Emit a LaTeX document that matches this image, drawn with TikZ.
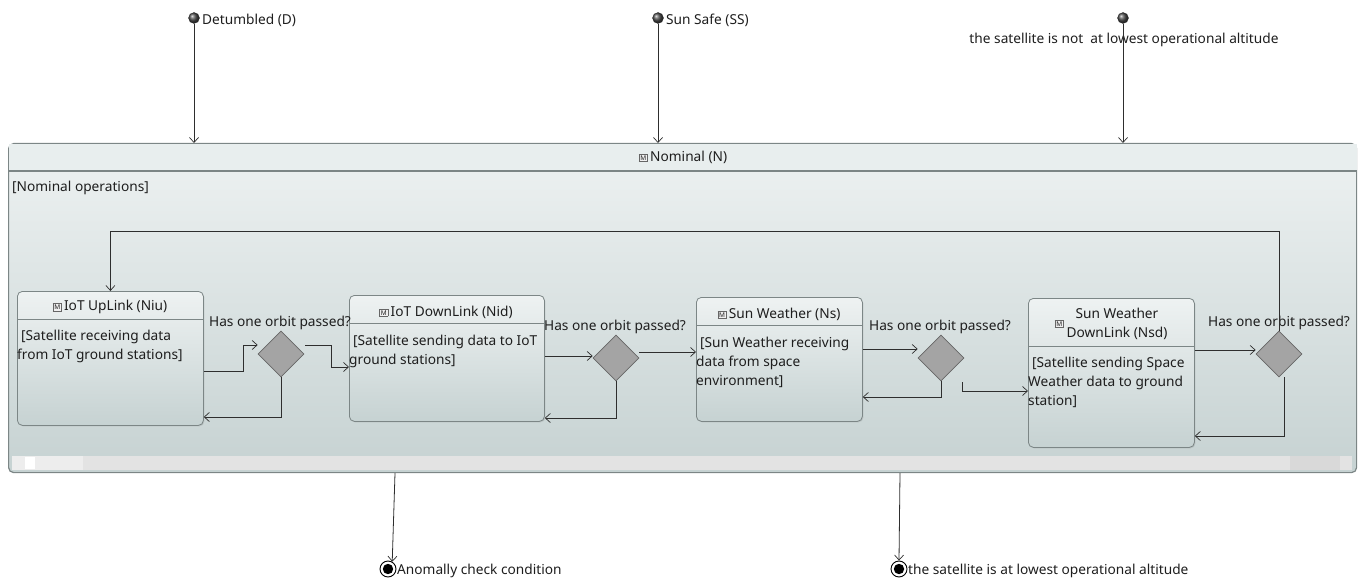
\documentclass[tikz,border=0pt]{standalone}
\usepackage{fontspec}
\setmainfont{Noto Sans}
\usetikzlibrary{shapes.geometric,arrows.meta,calc,shadows}
\definecolor{txt}{HTML}{1E1E1E}
\definecolor{edgec}{HTML}{7C8686}
\definecolor{boxtop}{HTML}{EEF2F2}
\definecolor{boxbot}{HTML}{C6D2D2}
\definecolor{diamc}{HTML}{A4A4A4}
\definecolor{linec}{HTML}{2E2E2E}
\definecolor{hdrc}{HTML}{E8EEEE}
\definecolor{scrA}{HTML}{E3E3E3}
\definecolor{scrB}{HTML}{EDEDED}
\definecolor{scrC}{HTML}{D9D9D9}
\newcommand{\mIcon}{{\setlength{\fboxsep}{1pt}\setlength{\fboxrule}{0.6pt}\raisebox{1pt}{\fcolorbox{gray!80!black}{gray!12}{\fontsize{6.5}{6.5}\selectfont\bfseries M}}}}
\tikzset{
  every node/.style={text=txt},
  conn/.style={draw=linec, line width=0.8pt, -{Straight Barb[length=5pt,width=9pt,line width=0.7pt]}},
  statebox/.style={draw=edgec, line width=0.8pt, rounded corners=5pt, top color=boxtop, bottom color=boxbot, inner sep=0pt, drop shadow={shadow xshift=1pt, shadow yshift=-1pt, opacity=0.25}},
  decision/.style={diamond, draw=gray!80!black, fill=diamc, line width=0.6pt, minimum width=46pt, minimum height=46pt, inner sep=0pt},
  initball/.style={circle, inner sep=0pt, minimum size=11pt, ball color=gray!60!black, draw=gray!30!black, line width=0.3pt},
  finalst/.style={circle, draw=black, line width=0.9pt, inner sep=0pt, minimum size=16pt, path picture={\fill[black] (path picture bounding box.center) circle (5.2pt);}},
  lbl/.style={font=\fontsize{13.7}{16}\selectfont, inner sep=0pt, yshift=-2pt},
  body/.style={font=\fontsize{13.7}{19}\selectfont, align=left, inner sep=0pt, anchor=north west},
  sep/.style={draw=edgec, line width=0.8pt}
}
\begin{document}
\begin{tikzpicture}[x=1pt,y=-1pt]
\useasboundingbox (0,0) rectangle (1365,580);

% container
\node[draw=edgec, line width=1.2pt, rounded corners=5pt, top color=boxtop, bottom color=boxbot, minimum width=1348pt, minimum height=329pt, anchor=north west, inner sep=0pt] (nom) at (8,143) {};
\fill[hdrc] ($(nom.north west)+(0.6,27.4)$) rectangle ($(nom.north east)+(-0.6,0.8)$);
\draw[sep, line width=1.4pt] ($(nom.north west)+(0,28)$) -- ($(nom.north east)+(0,28)$);
\node[lbl] (nomt) at (683,155) {\mIcon\,Nominal (N)};
\node[lbl, anchor=west] (nomb) at (12,186) {[Nominal operations]};
% scroll bar
\fill[scrA] (12,456) rectangle (1352,470);
\fill[scrB] (12,456) rectangle (83,470);
\fill[white] (25,457) rectangle (35,469);
\fill[scrC] (1290,456) rectangle (1340,470);

% initial pseudo states
\node[initball] (i1) at (194,18) {};
\node[initball] (i2) at (658,18) {};
\node[initball] (i3) at (1123,18) {};
\node[lbl, anchor=west] (l1) at (202,18) {Detumbled (D)};
\node[lbl, anchor=west] (l2) at (666,18) {Sun Safe (SS)};
\node[lbl] (l3) at (1124,38) {the satellite is not\ \ at lowest operational altitude};
\draw[conn] (i1.south) -- (i1.south |- nom.north);
\draw[conn] (i2.south) -- (i2.south |- nom.north);
\draw[conn] (i3.south) -- (i3.south |- nom.north);

% states
\node[statebox, minimum width=186pt, minimum height=134pt, anchor=north west] (up) at (17,291) {};
\draw[sep] ($(up.north west)+(0,28)$) -- ($(up.north east)+(0,28)$);
\node[lbl] (upt) at (110,305) {\mIcon\,IoT UpLink (Niu)};
\node[body] (upb) at (17,330) {\hspace*{4pt}[Satellite receiving data\\from IoT ground stations]};

\node[statebox, minimum width=195pt, minimum height=126pt, anchor=north west] (dn) at (349,295) {};
\draw[sep] ($(dn.north west)+(0,28)$) -- ($(dn.north east)+(0,28)$);
\node[lbl] (dnt) at (446,310) {\mIcon\,IoT DownLink (Nid)};
\node[body] (dnb) at (349,335) {\hspace*{4pt}[Satellite sending data to IoT\\ground stations]};

\node[statebox, minimum width=166pt, minimum height=124pt, anchor=north west] (sw) at (696,297) {};
\draw[sep] ($(sw.north west)+(0,28)$) -- ($(sw.north east)+(0,28)$);
\node[lbl] (swt) at (779,312) {\mIcon\,Sun Weather (Ns)};
\node[body] (swb) at (696,337) {\hspace*{4pt}[Sun Weather receiving\\data from space\\environment]};

\node[statebox, minimum width=166pt, minimum height=149pt, anchor=north west] (nsd) at (1028,298) {};
\draw[sep] ($(nsd.north west)+(0,48)$) -- ($(nsd.north east)+(0,48)$);
\node[lbl, anchor=east] (nsdi) at (1064,322) {\mIcon};
\node[lbl, align=center, font=\fontsize{13.7}{19}\selectfont] (nsdt) at (1117,322) {Sun Weather\\DownLink (Nsd)};
\node[body] (nsdb) at (1028,357) {\hspace*{4pt}[Satellite sending Space\\Weather data to ground\\station]};

% decisions
\node[decision] (d1) at (281,354) {};
\node[decision] (d2) at (616,358) {};
\node[decision] (d3) at (941,358) {};
\node[decision] (d4) at (1279,354) {};
\node[lbl] (q1) at (280,321) {Has one orbit passed?};
\node[lbl] (q2) at (615,325) {Has one orbit passed?};
\node[lbl] (q3) at (940,325) {Has one orbit passed?};
\node[lbl] (q4) at (1279,321) {Has one orbit passed?};

% transitions
\draw[conn] ($(up.north east)+(0,80)$) -- ++(40,0) |- ($(d1.west)+(0,-9)$);
\draw[conn] ($(d1.east)+(1,-9)$) -- ++(26,0) |- ($(dn.north west)+(0,72)$);
\draw[conn] (d1.south) |- ($(up.north east)+(0,126)$);
\draw[conn] ($(dn.north east)+(0,61)$) -- ($(d2.west)+(0,-2)$);
\draw[conn] (d2.south) |- ($(dn.north east)+(0,123)$);
\draw[conn] ($(d2.east)+(0,-6)$) -- ($(sw.north west)+(0,55)$);
\draw[conn] ($(sw.north east)+(0,52)$) -- ($(d3.west)+(0,-9)$);
\draw[conn] (d3.south) |- ($(sw.north east)+(0,100)$);
\draw[conn] ($(d3.east)+(-2,24)$) |- ($(nsd.north west)+(0,93)$);
\draw[conn] ($(nsd.north east)+(0,52)$) -- ($(d4.west)+(0,-4)$);
\draw[conn] ($(d4.south)+(5,0)$) |- ($(nsd.north east)+(0,138)$);
\draw[conn] (d4.north) |- ($(up.north)+(0,-60)$) -- (up.north);

% final states
\node[finalst] (f1) at (388,569) {};
\node[finalst] (f2) at (899,569) {};
\node[lbl, anchor=west] (fl1) at (397,569) {Anomally check condition};
\node[lbl, anchor=west] (fl2) at (908,569) {the satellite is at lowest operational altitude};
\draw[conn] ($(nom.south west)+(387,0)$) -- (f1.60);
\draw[conn] ($(nom.south west)+(892,0)$) -- (f2.north);
\end{tikzpicture}
\end{document}
